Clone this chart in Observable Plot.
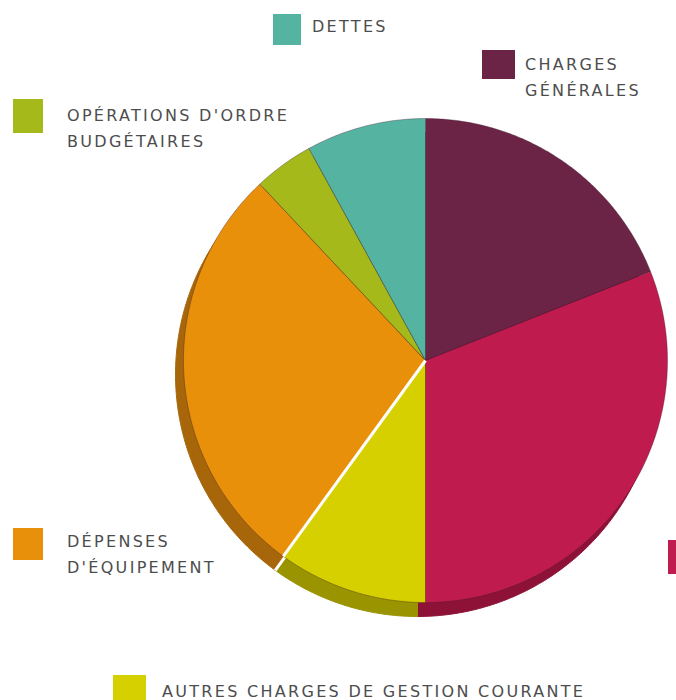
<!DOCTYPE html>
<html>
<head>
<meta charset="utf-8">
<script src="https://cdn.jsdelivr.net/npm/d3@7"></script>
<script src="https://cdn.jsdelivr.net/npm/@observablehq/plot@0.6"></script>
<style>
  html, body { margin: 0; padding: 0; background: #fff; overflow: hidden; }
  #wrap { position: relative; width: 676px; height: 700px; overflow: hidden; }
  #chart { position: absolute; left: 0; top: 0; }
  .lg-sq { position: absolute; }
  .lg-tx { position: absolute; font-family: "DejaVu Sans", sans-serif; font-size: 16px; line-height: 26px;
           letter-spacing: 2.3px; color: #4d4d4d; white-space: pre; text-transform: uppercase; }
</style>
</head>
<body>
<div id="wrap"><div id="chart"></div></div>
<script>
// ---- data ----
const categories = ["Charges générales", "Charges de personnel", "Autres charges de gestion courante",
                    "Dépenses d'équipement", "Opérations d'ordre budgétaires", "Dettes"];
const values = [19, 31, 10, 28, 4, 8];
const colors = ["#6c2446", "#c01b4f", "#d6d000", "#e9900b", "#a6b91a", "#55b3a2"];
const rimColors = ["#4a1530", "#8e1238", "#9a9400", "#a8660a", "#78890f", "#3a8578"];
// the label of "Charges de personnel" lies outside the visible frame in the reference (only its swatch shows)
const legendLabels = ["CHARGES\nGÉNÉRALES", "", "AUTRES CHARGES DE GESTION COURANTE",
                      "DÉPENSES\nD'ÉQUIPEMENT", "OPÉRATIONS D'ORDRE\nBUDGÉTAIRES", "DETTES"];

// ---- layout (legend placement) ----
const legendLayout = [
  {sq: [482, 50, 33, 29], tx: [525, 52]},
  {sq: [668, 540, 30, 34], tx: [712, 540]},
  {sq: [113, 675, 33, 28], tx: [162, 679]},
  {sq: [13, 528, 30, 32], tx: [67, 529]},
  {sq: [13, 99, 30, 34], tx: [67, 103]},
  {sq: [273, 14, 28, 31], tx: [312, 14]}
];

// ---- build slice polygons from values ----
const total = d3.sum(values);
const slices = [];
const boundaries = [];
let cum = 0;
values.forEach((v, i) => {
  const a0 = cum / total * 2 * Math.PI;
  cum += v;
  const a1 = cum / total * 2 * Math.PI;
  const n = Math.max(4, Math.ceil((a1 - a0) / 0.01));
  slices.push({cat: categories[i], color: colors[i], rim: rimColors[i], x: 0, y: 0});
  for (let k = 0; k <= n; k++) {
    const a = a0 + (a1 - a0) * k / n;
    slices.push({cat: categories[i], color: colors[i], rim: rimColors[i], x: Math.sin(a), y: Math.cos(a)});
  }
  slices.push({cat: categories[i], color: colors[i], rim: rimColors[i], x: 0, y: 0});
  boundaries.push({cat: categories[i], x: Math.sin(a1), y: Math.cos(a1)});
});
// separator between "Autres charges" and "Dépenses d'équipement" (white gap)
const gap = boundaries.filter(b => b.cat === categories[2]);

const plot = Plot.plot({
  width: 676,
  height: 700,
  margin: 0,
  x: {domain: [-1, 1], range: [183, 667], axis: null},
  y: {domain: [-1, 1], range: [602, 118], axis: null},
  color: {type: "identity"},
  marks: [
    // extruded rim (3D depth)
    Plot.line(slices, {x: "x", y: "y", z: "cat", fill: "rim", stroke: "rim", strokeWidth: 1, dx: -8, dy: 14, curve: "linear"}),
    Plot.link(gap, {x1: 0, y1: 0, x2: "x", y2: "y", stroke: "white", strokeWidth: 3, dx: -8, dy: 14}),
    // faces
    Plot.line(slices, {x: "x", y: "y", z: "cat", fill: "color", stroke: "#3a1a2a", strokeOpacity: 0.35, strokeWidth: 1, curve: "linear"}),
    Plot.link(gap, {x1: 0, y1: 0, x2: "x", y2: "y", stroke: "white", strokeWidth: 3})
  ]
});
document.getElementById("chart").appendChild(plot);

// ---- legend ----
const wrap = document.getElementById("wrap");
legendLabels.forEach((lab, i) => {
  const L = legendLayout[i];
  const sq = document.createElement("div");
  sq.className = "lg-sq";
  Object.assign(sq.style, {left: L.sq[0] + "px", top: L.sq[1] + "px", width: L.sq[2] + "px", height: L.sq[3] + "px", background: colors[i]});
  wrap.appendChild(sq);
  if (!lab) return;
  const tx = document.createElement("div");
  tx.className = "lg-tx";
  tx.textContent = lab;
  Object.assign(tx.style, {left: L.tx[0] + "px", top: L.tx[1] + "px"});
  wrap.appendChild(tx);
});
</script>
</body>
</html>
